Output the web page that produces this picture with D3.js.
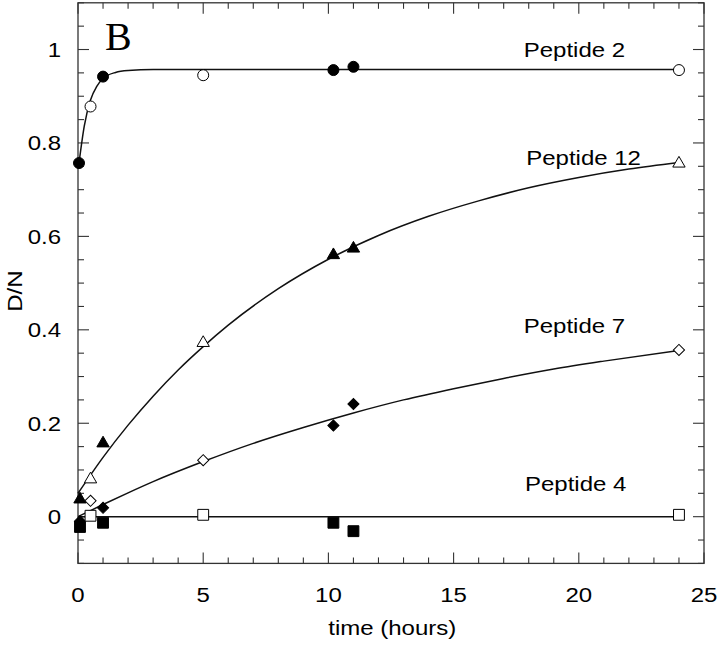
<!DOCTYPE html>
<html>
<head>
<meta charset="utf-8">
<script src="https://cdn.jsdelivr.net/npm/d3@7"></script>
<style>
  html, body { margin: 0; padding: 0; background: #fff; }
  svg { display: block; }
  text { fill: #000; }
</style>
</head>
<body>
<svg id="chart" width="720" height="647"></svg>
<script>
// ---------------- data ----------------
const times = [0.08, 0.5, 1, 5, 10.2, 11, 24];
const filledFlags = [1, 0, 1, 0, 1, 1, 0];

const pep2Times = [0.04, 0.5, 1, 5, 10.2, 11, 24];
const pep2Values = [0.757, 0.878, 0.942, 0.945, 0.956, 0.963, 0.956];
const pep12Values = [0.037, 0.080, 0.157, 0.372, 0.560, 0.574, 0.756];
const pep7Values = [-0.010, 0.034, 0.019, 0.121, 0.195, 0.241, 0.357];
const pep4Values = [-0.022, 0.002, -0.013, 0.004, -0.013, -0.031, 0.004];

// fitted curves
const fit2T = [0.04, 0.25, 0.5, 0.75, 1, 1.5, 2, 3, 24];
const fit2V = [0.757, 0.836, 0.892, 0.921, 0.938, 0.951, 0.955, 0.957, 0.957];
const fit12T = [0, 1, 2, 3, 4, 5, 6, 8, 10, 12, 14, 16, 18, 20, 22, 24];
const fit12V = [0.050, 0.127, 0.196, 0.258, 0.314, 0.364, 0.410, 0.488, 0.551, 0.602, 0.643, 0.676, 0.704, 0.726, 0.744, 0.758];
const fit7T = [0, 1, 2, 3, 5, 7, 9, 11, 13, 15, 17, 19, 21, 24];
const fit7V = [0.000, 0.026, 0.051, 0.075, 0.118, 0.157, 0.191, 0.222, 0.250, 0.274, 0.296, 0.316, 0.333, 0.356];
const fit4T = [0, 24];
const fit4V = [0.000, 0.000];

const seriesNames = ["Peptide 2", "Peptide 12", "Peptide 7", "Peptide 4"];
const labelT = [17.8, 17.9, 17.8, 17.85];
const labelV = [0.983, 0.753, 0.393, 0.056];

const xTickLabels = [0, 5, 10, 15, 20, 25];
const yTickLabels = [0, 0.2, 0.4, 0.6, 0.8, 1];
const xLabel = "time (hours)";
const yLabel = "D/N";
const panelLetter = "B";

// ---------------- layout ----------------
const SANS = "'Liberation Sans', Arial, Helvetica, sans-serif";
const SERIF = "'Liberation Serif', 'Times New Roman', serif";
const svg = d3.select("#chart");
const x = d3.scaleLinear().domain([0, 25]).range([78, 704]);
const y = d3.scaleLinear().domain([-0.1, 1.1]).range([563.4, 2.8]);
const STRETCH = 1.2;
function stretch(sel) {
  sel.each(function () {
    const w = this.getComputedTextLength();
    this.setAttribute("textLength", w * STRETCH);
    this.setAttribute("lengthAdjust", "spacingAndGlyphs");
  });
}

const axisColor = "#333";
const x0 = x.range()[0], x1 = x.range()[1];
const yB = y.range()[0], yT = y.range()[1];

// frame
svg.append("rect")
  .attr("x", x0).attr("y", yT).attr("width", x1 - x0).attr("height", yB - yT)
  .attr("fill", "none").attr("stroke", axisColor).attr("stroke-width", 1.3);

// x ticks (inward, bottom and top)
const xTicks = d3.range(0, 26, 1);
const gx = svg.append("g").attr("stroke", axisColor).attr("stroke-width", 1.1);
xTicks.forEach(t => {
  const len = (t % 5 === 0) ? 11 : 6;
  gx.append("line").attr("x1", x(t)).attr("x2", x(t)).attr("y1", yB).attr("y2", yB - len);
  gx.append("line").attr("x1", x(t)).attr("x2", x(t)).attr("y1", yT).attr("y2", yT + len);
});
// y ticks (inward, left and right)
const yTicks = d3.range(-2, 23, 1).map(i => i * 0.05);
yTicks.forEach(v => {
  const major = Math.abs(Math.round(v * 100) % 20) === 0;
  const len = major ? 11 : 6;
  gx.append("line").attr("x1", x0).attr("x2", x0 + len).attr("y1", y(v)).attr("y2", y(v));
  gx.append("line").attr("x1", x1).attr("x2", x1 - len).attr("y1", y(v)).attr("y2", y(v));
});

// tick labels
svg.append("g").selectAll("text").data(xTickLabels).join("text")
  .attr("x", d => x(d)).attr("y", 602)
  .attr("text-anchor", "middle").style("font-family", SANS).style("font-size", "20px")
  .text(d => d).call(stretch);
svg.append("g").selectAll("text").data(yTickLabels).join("text")
  .attr("x", 61).attr("y", d => y(d) + 7.5)
  .attr("text-anchor", "end").style("font-family", SANS).style("font-size", "20px")
  .text(d => d3.format("~g")(d)).call(stretch);

// axis titles
svg.append("text").attr("x", x(12.55)).attr("y", 635)
  .attr("text-anchor", "middle").style("font-family", SANS).style("font-size", "20px")
  .text(xLabel).call(stretch);
svg.append("text").attr("transform", `translate(22,${y(0.5) + 8}) rotate(-90)`)
  .attr("text-anchor", "middle").style("font-family", SANS).style("font-size", "20px")
  .text(yLabel).call(stretch);

// panel letter
svg.append("text").attr("x", 105).attr("y", 50)
  .style("font-family", SERIF).style("font-size", "40px").text(panelLetter);

// fitted curves
const line = d3.line().x(d => x(d[0])).y(d => y(d[1])).curve(d3.curveMonotoneX);
const fits = [[fit2T, fit2V], [fit12T, fit12V], [fit7T, fit7V], [fit4T, fit4V]];
fits.forEach(([ts, vs]) => {
  svg.append("path").datum(ts.map((t, i) => [t, vs[i]]))
    .attr("d", line).attr("fill", "none").attr("stroke", "#111").attr("stroke-width", 1.5);
});

// markers
const symbols = [
  d3.symbol(d3.symbolCircle, 95),
  d3.symbol(d3.symbolTriangle, 66),
  d3.symbol(d3.symbolSquare, 62),
  d3.symbol(d3.symbolSquare, 118)
];
const rotations = [0, 0, 45, 0];
const seriesT = [pep2Times, times, times, times];
const seriesV = [pep2Values, pep12Values, pep7Values, pep4Values];
seriesV.forEach((vals, s) => {
  const pts = vals.map((v, i) => ({ t: seriesT[s][i], v, f: filledFlags[i] }));
  svg.append("g").selectAll("path").data(pts).join("path")
    .attr("d", symbols[s])
    .attr("transform", d => `translate(${x(d.t)},${y(d.v)}) rotate(${rotations[s]})`)
    .attr("fill", d => d.f ? "#000" : "#fff")
    .attr("stroke", "#000").attr("stroke-width", 1);
});

// series labels
svg.append("g").selectAll("text").data(seriesNames).join("text")
  .attr("x", (d, i) => x(labelT[i])).attr("y", (d, i) => y(labelV[i]))
  .style("font-family", SANS).style("font-size", "20px")
  .text(d => d).call(stretch);
</script>
</body>
</html>
